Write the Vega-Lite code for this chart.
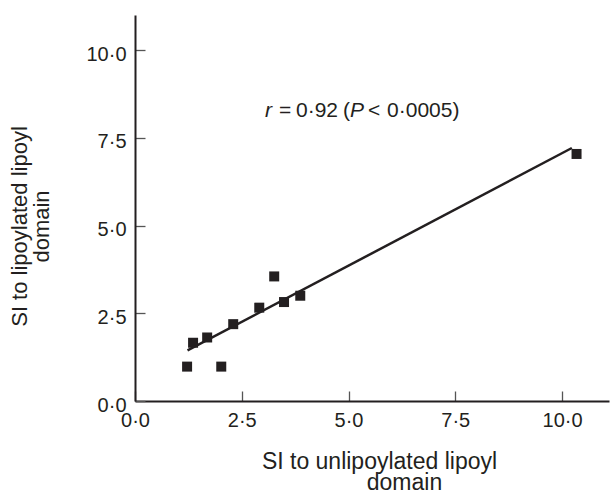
{
  "$schema": "https://vega.github.io/schema/vega-lite/v6.json",
  "width": 474,
  "height": 386,
  "autosize": "none",
  "padding": {"left": 135, "top": 15, "right": 1, "bottom": 92},
  "background": "white",
  "config": {
    "view": {"stroke": null},
    "font": "Liberation Sans"
  },
  "resolve": {"axis": {"x": "independent"}},
  "datasets": {
    "points": [
      {"unlipoylated": 1.22, "lipoylated": 0.98},
      {"unlipoylated": 2.02, "lipoylated": 0.98},
      {"unlipoylated": 1.36, "lipoylated": 1.66},
      {"unlipoylated": 1.69, "lipoylated": 1.81},
      {"unlipoylated": 2.30, "lipoylated": 2.19},
      {"unlipoylated": 2.91, "lipoylated": 2.66},
      {"unlipoylated": 3.26, "lipoylated": 3.55},
      {"unlipoylated": 3.49, "lipoylated": 2.82},
      {"unlipoylated": 3.87, "lipoylated": 3.00},
      {"unlipoylated": 10.34, "lipoylated": 7.04}
    ],
    "fit": [
      {"unlipoylated": 1.23, "lipoylated": 1.44},
      {"unlipoylated": 10.23, "lipoylated": 7.21}
    ],
    "one": [{}]
  },
  "layer": [
    {
      "data": {"name": "fit"},
      "mark": {"type": "line", "color": "#231f20", "strokeWidth": 2.5},
      "encoding": {
        "x": {
          "field": "unlipoylated",
          "type": "quantitative",
          "scale": {"domain": [0, 11.1], "nice": false, "zero": true},
          "axis": {
            "grid": false,
            "domainColor": "#231f20",
            "domainWidth": 2,
            "tickColor": "#555555",
            "tickWidth": 1.3,
            "tickSize": -10,
            "values": [0, 2.5, 5, 7.5, 10],
            "labelExpr": "replace(format(datum.value, '.1f'), '.', '·')",
            "labelFontSize": 20,
            "labelFont": "Liberation Sans",
            "labelColor": "#231f20",
            "labelFlush": false,
            "labelOverlap": false,
            "labelPadding": 19,
            "labelBaseline": "top",
            "title": "SI to unlipoylated lipoyl",
            "titleFont": "Liberation Sans",
            "titleFontSize": 23,
            "titleFontWeight": "normal",
            "titleColor": "#231f20",
            "titleAlign": "center",
            "titleBaseline": "alphabetic",
            "titleX": 244,
            "titleY": 67
          }
        },
        "y": {
          "field": "lipoylated",
          "type": "quantitative",
          "scale": {"domain": [0, 11], "nice": false, "zero": true},
          "axis": {
            "grid": false,
            "domainColor": "#231f20",
            "domainWidth": 2,
            "tickColor": "#555555",
            "tickWidth": 1.3,
            "tickSize": -10,
            "values": [0, 2.5, 5, 7.5, 10],
            "labelExpr": "replace(format(datum.value, '.1f'), '.', '·')",
            "labelFontSize": 20,
            "labelFont": "Liberation Sans",
            "labelColor": "#231f20",
            "labelFlush": false,
            "labelOverlap": false,
            "labelPadding": 19,
            "labelOffset": 4,
            "title": ["SI to lipoylated lipoyl", "domain"],
            "titleFont": "Liberation Sans",
            "titleFontSize": 22,
            "titleFontWeight": "normal",
            "titleColor": "#231f20",
            "titleAlign": "center",
            "titleBaseline": "alphabetic",
            "titleAngle": -90,
            "titleX": -109,
            "titleY": 211,
            "titleLineHeight": 22
          }
        }
      }
    },
    {
      "data": {"name": "points"},
      "mark": {"type": "square", "size": 100, "filled": true, "color": "#231f20", "opacity": 1},
      "encoding": {
        "x": {
          "field": "unlipoylated",
          "type": "quantitative",
          "axis": {
            "orient": "bottom",
            "domain": false,
            "ticks": false,
            "labels": false,
            "grid": false,
            "title": "domain",
            "titleFont": "Liberation Sans",
            "titleFontSize": 23,
            "titleFontWeight": "normal",
            "titleColor": "#231f20",
            "titleAlign": "center",
            "titleBaseline": "alphabetic",
            "titleX": 269,
            "titleY": 88
          }
        },
        "y": {"field": "lipoylated", "type": "quantitative"}
      }
    },
    {
      "data": {"name": "one"},
      "mark": {"type": "text", "text": "r", "fontStyle": "italic", "fontSize": 21, "align": "left", "baseline": "alphabetic", "color": "#231f20"},
      "encoding": {"x": {"datum": 3.045, "type": "quantitative", "axis": null}, "y": {"datum": 8.1, "type": "quantitative"}}
    },
    {
      "data": {"name": "one"},
      "mark": {"type": "text", "text": "=", "fontSize": 21, "align": "left", "baseline": "alphabetic", "color": "#231f20"},
      "encoding": {"x": {"datum": 3.372, "type": "quantitative", "axis": null}, "y": {"datum": 8.1, "type": "quantitative"}}
    },
    {
      "data": {"name": "one"},
      "mark": {"type": "text", "text": "0·92", "fontSize": 21, "align": "left", "baseline": "alphabetic", "color": "#231f20"},
      "encoding": {"x": {"datum": 3.77, "type": "quantitative", "axis": null}, "y": {"datum": 8.1, "type": "quantitative"}}
    },
    {
      "data": {"name": "one"},
      "mark": {"type": "text", "text": "(", "fontSize": 21, "align": "left", "baseline": "alphabetic", "color": "#231f20"},
      "encoding": {"x": {"datum": 4.871, "type": "quantitative", "axis": null}, "y": {"datum": 8.1, "type": "quantitative"}}
    },
    {
      "data": {"name": "one"},
      "mark": {"type": "text", "text": "P", "fontStyle": "italic", "fontSize": 21, "align": "left", "baseline": "alphabetic", "color": "#231f20"},
      "encoding": {"x": {"datum": 5.035, "type": "quantitative", "axis": null}, "y": {"datum": 8.1, "type": "quantitative"}}
    },
    {
      "data": {"name": "one"},
      "mark": {"type": "text", "text": "<", "fontSize": 21, "align": "left", "baseline": "alphabetic", "color": "#231f20"},
      "encoding": {"x": {"datum": 5.457, "type": "quantitative", "axis": null}, "y": {"datum": 8.1, "type": "quantitative"}}
    },
    {
      "data": {"name": "one"},
      "mark": {"type": "text", "text": "0·0005)", "fontSize": 21, "align": "left", "baseline": "alphabetic", "color": "#231f20"},
      "encoding": {"x": {"datum": 5.902, "type": "quantitative", "axis": null}, "y": {"datum": 8.1, "type": "quantitative"}}
    }
  ]
}
